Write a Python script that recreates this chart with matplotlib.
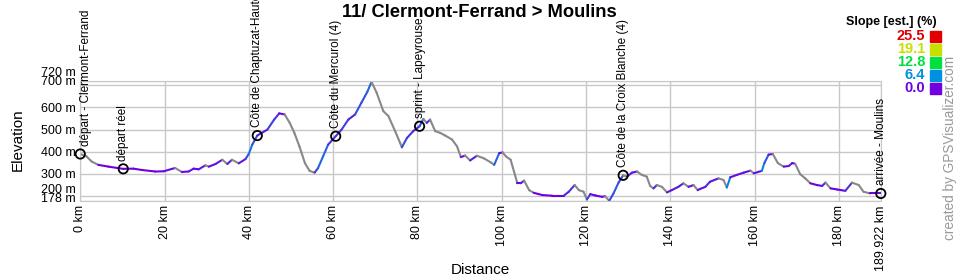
import numpy as np
import matplotlib
matplotlib.use("Agg")
import matplotlib.pyplot as plt
from matplotlib.collections import LineCollection
from matplotlib.colors import LinearSegmentedColormap

plt.rcParams['font.family'] = ['Liberation Sans', 'DejaVu Sans']

# profile (km, m)
dist = [0, 1.5, 2.7, 4.3, 6.7, 10.2, 12.6, 14.6, 17.8, 19.8, 22.5, 24.1, 25.7, 26.9, 28.1,
        29.7, 30.5, 32.1, 33.7, 34.9, 36.0, 37.6, 39.2, 40.0, 40.8, 42.0, 44.4, 46.0, 47.2,
        48.5, 49.7, 50.8, 52.0, 53.3, 54.4, 55.6, 56.4, 57.6, 58.8, 60.6, 62.0, 63.6, 65.2,
        66.7, 68.1, 69.1, 70.3, 71.9, 73.1, 74.7, 75.9, 76.3, 77.5, 79.0, 80.5, 81.4, 82.2,
        83.0, 84.2, 85.4, 86.6, 88.2, 89.4, 90.3, 91.3, 92.5, 94.1, 95.7, 97.4, 98.2, 99.4,
        100.2, 101.0, 102.1, 102.9, 103.7, 104.5, 105.3, 106.5, 107.6, 109.6, 112.0, 114.7,
        115.9, 117.3, 118.3, 119.4, 120.2, 121.0, 122.2, 123.8, 124.5, 125.5, 126.5, 127.7,
        128.8, 129.7, 130.9, 132.1, 133.2, 134.4, 135.2, 136.0, 136.8, 138.0, 139.2, 140.3,
        141.9, 143.1, 144.3, 145.5, 146.5, 147.1, 148.3, 149.4, 151.4, 152.6, 153.4, 154.2,
        155.8, 157.4, 159.0, 159.8, 161.7, 162.3, 163.3, 164.3, 165.5, 166.9, 168.1, 168.9,
        169.6, 170.8, 172.0, 173.2, 174.8, 176.0, 176.8, 178.0, 179.6, 181.5, 183.1, 184.7,
        185.8, 187.4, 189.922]
elev = [390, 379, 356, 341, 333, 323, 324, 318, 311, 312, 327, 309, 311, 324, 321,
        339, 333, 345, 364, 345, 364, 348, 367, 391, 432, 473, 500, 545, 573,
        568, 530, 485, 424, 349, 314, 306, 326, 379, 432, 470, 500, 545, 568,
        621, 670, 715, 667, 583, 561, 493, 439, 420, 462, 493, 515, 548, 530,
        545, 493, 485, 473, 455, 424, 376, 383, 361, 382, 371, 352, 341, 394,
        397, 379, 364, 311, 258, 258, 270, 227, 215, 205, 202, 202,
        220, 250, 227, 220, 185, 209, 203, 197, 200, 179, 212, 261,
        294, 288, 306, 311, 296, 288, 246, 235, 250, 242, 217, 227,
        242, 258, 242, 250, 227, 233, 242, 265, 280, 273, 239, 285,
        296, 306, 315, 303, 314, 349, 387, 390, 349, 333, 336, 349,
        346, 299, 280, 258, 250, 246, 261, 235, 230, 224, 261, 250,
        220, 212, 212]

wp_km = [0, 10.2, 42.0, 60.6, 80.5, 128.8, 189.922]
wp_elev = [390, 323, 473, 470, 515, 294, 212]
wp_names = ['départ - Clermont-Ferrand', 'départ réel', 'Côte de Chaptuzat-Haute (4)',
            'Côte du Mercurol (4)', 'sprint - Lapeyrouse', 'Côte de la Croix Blanche (4)',
            'arrivée - Moulins']

slope_vals = [25.5, 19.1, 12.8, 6.4, 0.0]
slope_cols = ['#e00000', '#c8e000', '#00e040', '#0090e0', '#7000e0']

xticks = [0, 20, 40, 60, 80, 100, 120, 140, 160, 180, 189.922]
xlabels = ['0 km', '20 km', '40 km', '60 km', '80 km', '100 km', '120 km',
           '140 km', '160 km', '180 km', '189.922 km']
yticks = [178, 200, 300, 400, 500, 600, 700, 720]
# close pairs of labels are pushed up a bit, in pixels
ylab_shift = {178: 2.5, 200: 6.5, 700: 3, 720: 8}

fig = plt.figure(figsize=(9.6, 2.8), dpi=100)
ax = fig.add_axes([0.0836, 0.282, 0.8339, 0.4296])

cmap = LinearSegmentedColormap.from_list('slope', list(zip([v / 25.5 for v in slope_vals[::-1]],
                                                            slope_cols[::-1])))
d = np.array(dist)
e = np.array(elev)
pts = np.column_stack([d, e]).reshape(-1, 1, 2)
segs = np.concatenate([pts[:-1], pts[1:]], axis=1)
slope = np.diff(e) / (np.diff(d) * 1000) * 100
cols = [('#888888' if s < -0.5 else cmap(min(max(s, 0), 25.5) / 25.5)) for s in slope]
ax.add_collection(LineCollection(segs, colors=cols, linewidths=1.5, capstyle='round'))

ax.scatter(wp_km, wp_elev, s=45, facecolors='none', edgecolors='black', linewidths=1.3,
           zorder=5, clip_on=False)
for k, h, n in zip(wp_km, wp_elev, wp_names):
    dx = 4 if k == 0 else 0
    ax.annotate(n, (k, h), xytext=(dx, 6), textcoords='offset points', rotation=90,
                ha='center', va='bottom', fontsize=8.5, annotation_clip=False)

ax.set_xlim(0, 189.922)
ax.set_ylim(178, 720)
ax.set_xticks(xticks)
ax.set_xticklabels(xlabels, rotation=90, fontsize=9)
ax.set_yticks(yticks)
ax.set_yticklabels(['' if v in ylab_shift else f'{v} m' for v in yticks], fontsize=9)
for v, dy in ylab_shift.items():
    ax.annotate(f'{v} m', (0, v), xycoords=('axes fraction', 'data'), xytext=(-3, dy * 0.72),
                textcoords='offset points', ha='right', va='center', fontsize=9)
ax.tick_params(length=0, pad=3)
ax.grid(True, color='#c8c8c8', lw=1)
ax.set_axisbelow(True)
for s in ax.spines.values():
    s.set_color('#c8c8c8')

fig.text(0.499, 0.955, '11/ Clermont-Ferrand > Moulins', ha='center', va='center',
         fontsize=13.2, fontweight='bold')
fig.text(0.019, 0.5, 'Elevation', rotation=90, ha='center', va='center', fontsize=11)
fig.text(0.5, 0.035, 'Distance', ha='center', va='center', fontsize=11)

fig.text(0.976, 0.922, 'Slope [est.] (%)', ha='right', va='center', fontsize=9, fontweight='bold')
for i, (v, c) in enumerate(zip(slope_vals, slope_cols)):
    y = 1 - (36 + 13 * i) / 280
    fig.text(0.964, y, f'{v:.1f}', ha='right', va='center', fontsize=10.5, fontweight='bold', color=c)
    fig.patches.append(plt.Rectangle((930 / 960, y - 5.5 / 280), 11 / 960, 11 / 280,
                                     transform=fig.transFigure, color=c))

fig.text(0.99, 0.47, 'created by GPSVisualizer.com', rotation=90, ha='center', va='center',
         fontsize=9.8, color='#999999')

fig.savefig('out.png', dpi=100)
